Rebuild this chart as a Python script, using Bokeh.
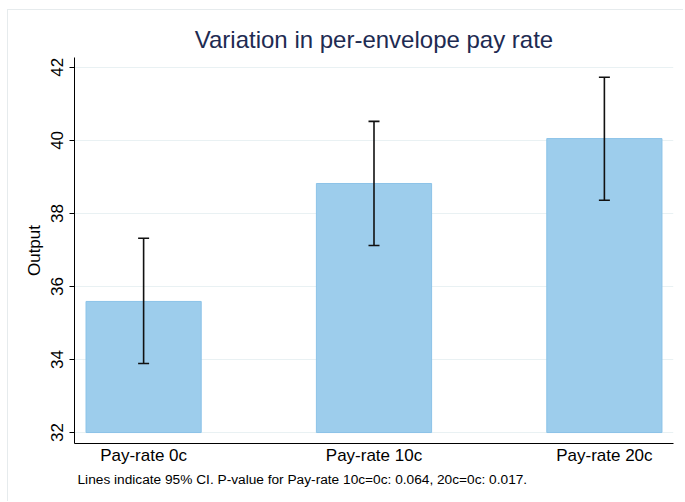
from bokeh.plotting import figure
from bokeh.models import ColumnDataSource, Whisker, TeeHead, FixedTicker, Title
from bokeh.embed import file_html
from bokeh.resources import INLINE

categories = ["Pay-rate 0c", "Pay-rate 10c", "Pay-rate 20c"]
positions = [1, 2, 3]
means = [35.59, 38.82, 40.05]
ci_lower = [33.89, 37.12, 38.36]
ci_upper = [37.32, 40.52, 41.73]
y_ticks = [32, 34, 36, 38, 40, 42]
title_text = "Variation in per-envelope pay rate"
note_text = "Lines indicate 95% CI. P-value for Pay-rate 10c=0c: 0.064, 20c=0c: 0.017."

FONT = "Liberation Sans"

src = ColumnDataSource(dict(x=positions, top=means, lo=ci_lower, hi=ci_upper,
                            bottom=[32] * len(positions)))

p = figure(width=676, height=492, x_range=(0.7, 3.3), y_range=(31.7, 42.27),
           output_backend="svg", toolbar_location=None,
           min_border_left=66, min_border_right=11, min_border_top=47, min_border_bottom=59)

p.title.text = title_text
p.title.align = "center"
p.title.text_font = FONT
p.title.text_font_size = "24px"
p.title.text_font_style = "normal"
p.title.text_color = "#1E2B52"
p.title.standoff = 9

p.add_layout(Title(text=note_text, align="left", text_font=FONT, text_font_size="13.7px",
                   text_font_style="normal", text_color="#000000", offset=3, standoff=4), "below")

p.vbar(x="x", width=0.5, bottom="bottom", top="top", source=src,
       fill_color="#9DCDEC", line_color="#8CC3E8", line_width=1)

w = Whisker(base="x", lower="lo", upper="hi", source=src, line_color="#111111", line_width=1.6,
            level="overlay",
            upper_head=TeeHead(size=11, line_color="#111111", line_width=1.6),
            lower_head=TeeHead(size=11, line_color="#111111", line_width=1.6))
p.add_layout(w)

p.outline_line_color = None
p.background_fill_color = "white"

p.xgrid.visible = False
p.ygrid.grid_line_color = "#E9F1F3"
p.ygrid.grid_line_width = 1
p.yaxis.ticker = FixedTicker(ticks=y_ticks)
p.xaxis.ticker = FixedTicker(ticks=positions)
p.xaxis.major_label_overrides = {pos: cat for pos, cat in zip(positions, categories)}

for ax in (p.xaxis[0], p.yaxis[0]):
    ax.axis_line_color = "#000000"
    ax.axis_line_width = 1
    ax.major_label_text_font = FONT
    ax.major_label_text_font_size = "17px"
    ax.major_label_text_color = "#000000"
    ax.minor_tick_line_color = None

p.xaxis.major_tick_line_color = None
p.xaxis.major_label_standoff = -4
p.yaxis.major_tick_in = 0
p.yaxis.major_tick_out = 5
p.yaxis.major_tick_line_color = "#000000"
p.yaxis.major_label_orientation = "vertical"
p.yaxis.major_label_standoff = 6
p.yaxis.axis_label = "Output"
p.yaxis.axis_label_text_font = FONT
p.yaxis.axis_label_text_font_size = "17px"
p.yaxis.axis_label_text_font_style = "normal"
p.yaxis.axis_label_text_color = "#000000"
p.yaxis.axis_label_standoff = 5

p.styles = {"border-top": "1px solid #E6EBED", "border-left": "1px solid #E6EBED",
            "margin-left": "7px", "margin-top": "9px"}

open("out.html", "w").write(file_html(p, INLINE))
